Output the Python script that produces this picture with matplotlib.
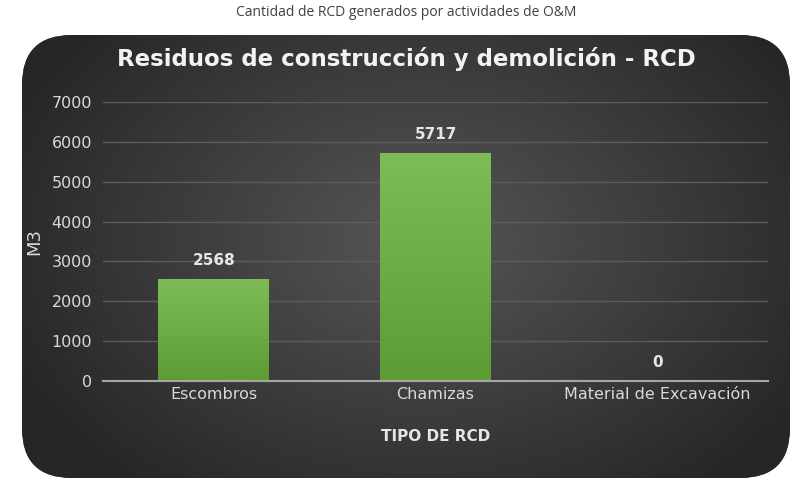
import numpy as np
from matplotlib import pyplot as plt
from matplotlib.patches import FancyBboxPatch

plt.rcParams['font.family'] = ['DejaVu Sans']
plt.rcParams['axes.spines.left'] = False
plt.rcParams['axes.spines.right'] = False
plt.rcParams['axes.spines.top'] = False
plt.rcParams['axes.axisbelow'] = True

# datos
categorias = ['Escombros', 'Chamizas', 'Material de Excavación']
volumenes = [2568, 5717, 0]
y_ticks = [0, 1000, 2000, 3000, 4000, 5000, 6000, 7000]

titulo_sup = 'Cantidad de RCD generados por actividades de O&M'
titulo = 'Residuos de construcción y demolición - RCD'

W, H = 793, 480
fig = plt.figure(figsize=(W / 100, H / 100), dpi=100)
fig.patch.set_facecolor('white')

# fondo: panel redondeado con degradado radial
bg = fig.add_axes([0, 0, 1, 1])
bg.set_xlim(0, W)
bg.set_ylim(H, 0)
bg.axis('off')
panel = FancyBboxPatch((22, 35), 768, 443, boxstyle='round,pad=0,rounding_size=50',
                       facecolor='#333333', edgecolor='none')
bg.add_patch(panel)
yy, xx = np.mgrid[0:H, 0:W]
r = np.sqrt(((xx - 420) / 450.0) ** 2 + ((yy - 240) / 320.0) ** 2)
r = np.clip(r, 0, 1)
c_in = np.array([0x56, 0x56, 0x56]) / 255
c_out = np.array([0x26, 0x26, 0x26]) / 255
grad = c_in[None, None, :] * (1 - r[..., None]) + c_out[None, None, :] * r[..., None]
im = bg.imshow(grad, extent=(0, W, H, 0), aspect='auto', zorder=1)
im.set_clip_path(panel)

fig.text(406 / W, 1 - 12 / H, titulo_sup, ha='center', va='center',
         fontsize=10, color='#404040', family=['Open Sans', 'DejaVu Sans'])
fig.text(406 / W, 1 - 59 / H, titulo, ha='center', va='center',
         fontsize=16.5, fontweight='bold', color='#f2f2f2')

# grafico
ax = fig.add_axes([103 / W, 1 - 381 / H, (768 - 103) / W, (381 - 102) / H])
ax.set_facecolor('none')
x = np.arange(len(categorias))
bars = ax.bar(x, volumenes, width=0.5, color='#70ad47', zorder=3)

# degradado en barras
verde = np.array([[0x7e, 0xbc, 0x58], [0x5d, 0x9c, 0x34]]) / 255
t = np.linspace(0, 1, 100)[:, None]
gv = (verde[0] * (1 - t) + verde[1] * t)[:, None, :]
for b in bars:
    if b.get_height() <= 0:
        continue
    g = ax.imshow(gv, extent=(b.get_x(), b.get_x() + b.get_width(), 0, b.get_height()),
                  aspect='auto', zorder=4)
    g.set_clip_path(b)

for xi, v in zip(x, volumenes):
    ax.annotate(str(v), (xi, v), xytext=(0, 8), textcoords='offset points',
                ha='center', va='bottom', fontsize=11, fontweight='bold', color='#e6e6e6')

ax.set_xlim(-0.5, len(categorias) - 0.5)
ax.set_ylim(0, 7000)
ax.set_yticks(y_ticks)
ax.set_xticks(x)
ax.set_xticklabels(categorias)
ax.tick_params(axis='both', length=0, colors='#d9d9d9', labelsize=11.5)
ax.tick_params(axis='y', pad=8)
ax.tick_params(axis='x', pad=4)
ax.grid(True, axis='y', color='#5c5c5c', linewidth=1)
ax.spines['bottom'].set_color('#a6a6a6')
ax.spines['bottom'].set_linewidth(1.5)
ax.spines['bottom'].set_zorder(5)

ax.set_ylabel('M3', fontsize=13, color='#d9d9d9', labelpad=6)
ax.set_xlabel('TIPO DE RCD', fontsize=11, fontweight='bold', color='#e6e6e6', labelpad=20)

plt.savefig('out.png', dpi=100)
